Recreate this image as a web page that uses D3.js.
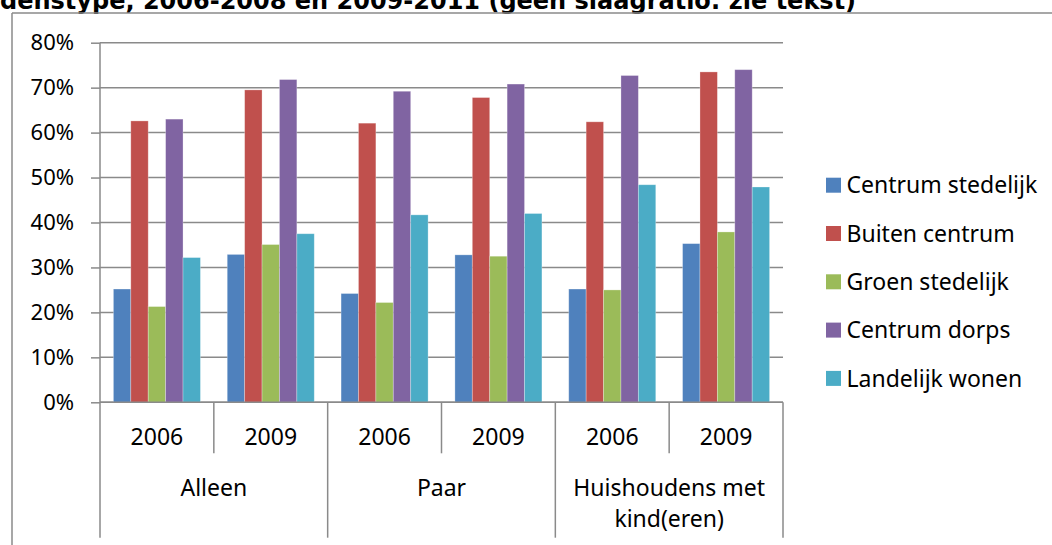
<!DOCTYPE html>
<html>
<head>
<meta charset="utf-8">
<script src="https://cdn.jsdelivr.net/npm/d3@7"></script>
<style>
  html, body { margin: 0; padding: 0; background: #fff; }
  svg { display: block; }
</style>
</head>
<body>
<svg id="chart" width="1052" height="545"></svg>
<script>
// ---- Data ----
const groups = ["Alleen", "Paar", "Huishoudens met kind(eren)"];
const years = ["2006", "2009"];
const seriesNames = ["Centrum stedelijk", "Buiten centrum", "Groen stedelijk", "Centrum dorps", "Landelijk wonen"];
const centrumStedelijk = [25.2, 32.9, 24.2, 32.8, 25.2, 35.3];
const buitenCentrum    = [62.6, 69.5, 62.1, 67.8, 62.4, 73.5];
const groenStedelijk   = [21.3, 35.1, 22.2, 32.5, 25.0, 37.9];
const centrumDorps     = [63.0, 71.8, 69.2, 70.8, 72.7, 74.0];
const landelijkWonen   = [32.2, 37.5, 41.7, 42.0, 48.4, 47.9];
const yTicks = [0, 10, 20, 30, 40, 50, 60, 70, 80];
const titleText = "denstype, 2006-2008 en 2009-2011 (geen slaagratio: zie tekst)";

const seriesValues = [centrumStedelijk, buitenCentrum, groenStedelijk, centrumDorps, landelijkWonen];
const colors = ["#4F81BD", "#C0504D", "#9BBB59", "#8064A2", "#4BACC6"];

// category keys: one per group/year
const cats = [];
groups.forEach((g, gi) => years.forEach((yr, yi) => cats.push({ key: gi + "-" + yi, group: g, year: yr, gi })));

const svg = d3.select("#chart");
const font = "'Noto Sans', 'Open Sans', sans-serif";
const gridColor = "#8a8a8a";

// Title (cut off at top, as in the reference)
svg.append("text")
  .attr("x", 0).attr("y", 9)
  .attr("font-family", "'DejaVu Sans', Verdana, sans-serif")
  .attr("font-weight", "bold")
  .attr("font-size", 24)
  .attr("fill", "#000")
  .text(titleText);

// Chart frame
svg.append("line").attr("x1", 12).attr("x2", 1052).attr("y1", 13).attr("y2", 13)
  .attr("stroke", gridColor).attr("stroke-width", 1.5);
svg.append("line").attr("x1", 12).attr("x2", 12).attr("y1", 13).attr("y2", 545)
  .attr("stroke", gridColor).attr("stroke-width", 1.5);

const plotLeft = 100, plotRight = 783, plotTop = 42.7, plotBottom = 402.3;

const x0 = d3.scaleBand().domain(cats.map(c => c.key)).range([plotLeft, plotRight]).paddingInner(0).paddingOuter(0);
const x1 = d3.scaleBand().domain(d3.range(seriesNames.length)).range([0, x0.bandwidth()]).paddingInner(0).paddingOuter(0.77);
const y = d3.scaleLinear().domain([0, 80]).range([plotBottom, plotTop]);

// y ticks
const yAxis = d3.axisLeft(y).tickValues(yTicks).tickFormat(d => d + "%").tickSize(9).tickPadding(17);
const ya = svg.append("g").attr("transform", `translate(${plotLeft},0)`).call(yAxis);
ya.select(".domain").remove();
ya.selectAll(".tick line").attr("stroke", gridColor).attr("stroke-width", 1.5);
ya.selectAll(".tick text").attr("font-family", font).attr("font-size", 22).attr("fill", "#000");

// Gridlines
svg.append("g").selectAll("line").data(yTicks).join("line")
  .attr("x1", plotLeft).attr("x2", plotRight)
  .attr("y1", d => y(d)).attr("y2", d => y(d))
  .attr("stroke", gridColor).attr("stroke-width", 1.5);

// Bars
const barG = svg.append("g");
cats.forEach((c, ci) => {
  seriesValues.forEach((vals, si) => {
    const v = vals[ci];
    barG.append("rect")
      .attr("x", x0(c.key) + x1(si))
      .attr("y", y(v))
      .attr("width", x1.bandwidth())
      .attr("height", y(0) - y(v))
      .attr("fill", colors[si])
      .attr("stroke", "rgba(255,255,255,0.35)")
      .attr("stroke-width", 0.8);
  });
});

// Axis lines
svg.append("line").attr("x1", plotLeft).attr("x2", plotRight).attr("y1", plotBottom).attr("y2", plotBottom)
  .attr("stroke", gridColor).attr("stroke-width", 1.5);
svg.append("line").attr("x1", plotLeft).attr("x2", plotLeft).attr("y1", plotTop).attr("y2", plotBottom)
  .attr("stroke", gridColor).attr("stroke-width", 1.5);

// Category separators
const sepYear = 453.3, sepGroup = 537.7;
const boundaries = cats.map(c => x0(c.key)).concat([x0(cats[cats.length - 1].key) + x0.bandwidth()]);
svg.append("g").selectAll("line").data(boundaries).join("line")
  .attr("x1", d => d).attr("x2", d => d)
  .attr("y1", plotBottom)
  .attr("y2", (d, i) => (i % 2 === 0 ? sepGroup : sepYear))
  .attr("stroke", gridColor).attr("stroke-width", 1.5);

// Year labels
svg.append("g").selectAll("text").data(cats).join("text")
  .attr("x", c => x0(c.key) + x0.bandwidth() / 2)
  .attr("y", 445)
  .attr("text-anchor", "middle")
  .attr("font-family", font).attr("font-size", 23).attr("fill", "#000")
  .text(c => c.year);

// Group labels
const groupLines = [["Alleen"], ["Paar"], ["Huishoudens met", "kind(eren)"]];
groups.forEach((g, gi) => {
  const cx = (x0(gi + "-0") + x0(gi + "-1") + x0.bandwidth()) / 2;
  const t = svg.append("text")
    .attr("x", cx).attr("y", 496)
    .attr("text-anchor", "middle")
    .attr("font-family", font).attr("font-size", 23).attr("fill", "#000");
  groupLines[gi].forEach((ln, li) => {
    t.append("tspan").attr("x", cx).attr("dy", li === 0 ? 0 : 31).text(ln);
  });
});

// Legend
const legend = svg.append("g");
seriesNames.forEach((name, i) => {
  const ly = 177.7 + i * 48.3;
  legend.append("rect").attr("x", 826).attr("y", ly).attr("width", 15).attr("height", 15).attr("fill", colors[i]);
  legend.append("text").attr("x", 846.5).attr("y", ly + 15.6)
    .attr("font-family", font).attr("font-size", 23).attr("fill", "#000")
    .text(name);
});
</script>
</body>
</html>
